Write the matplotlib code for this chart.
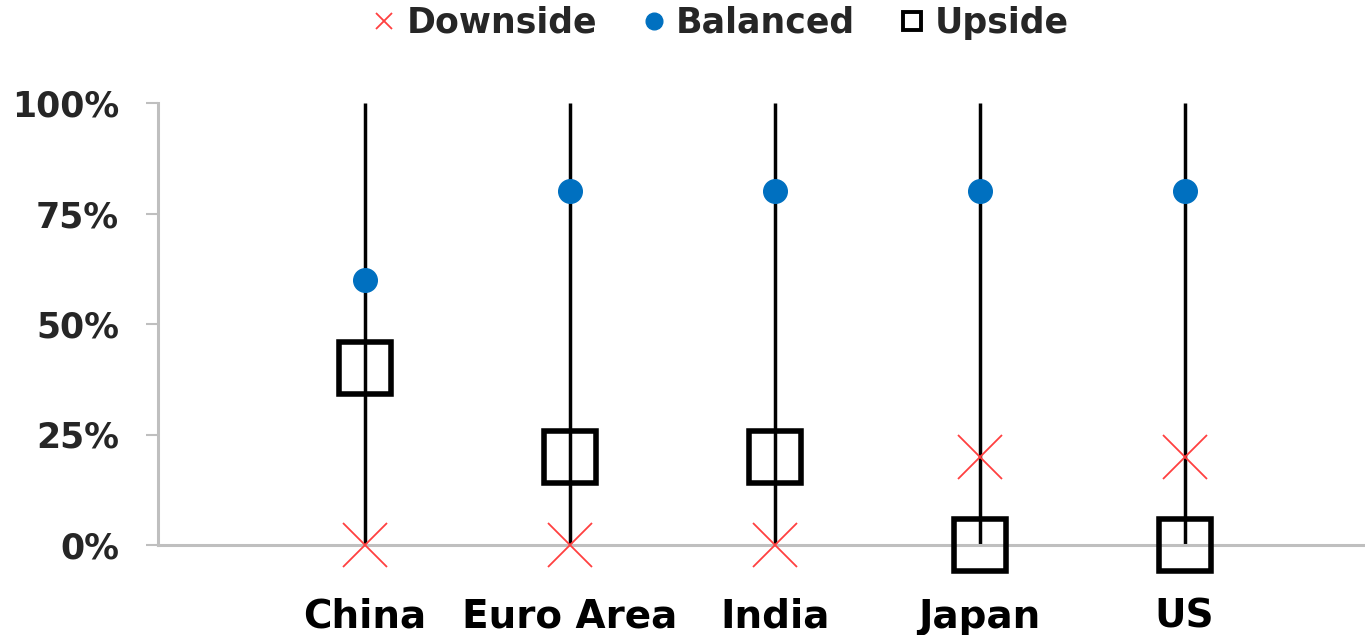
import numpy as np
import matplotlib.pyplot as plt
from matplotlib.lines import Line2D
from matplotlib.ticker import FuncFormatter

# Risk balance per economy (share of responses)
countries = ['China', 'Euro Area', 'India', 'Japan', 'US']
downside = [0, 0, 0, 20, 20]
balanced = [60, 80, 80, 80, 80]
upside = [40, 20, 20, 0, 0]
y_ticks = [0, 25, 50, 75, 100]

plt.rcParams['font.family'] = 'DejaVu Sans'
plt.rcParams['font.weight'] = 'bold'

fig = plt.figure(figsize=(13.65, 6.35), dpi=100)
ax = fig.add_axes([158 / 1365, 1 - 545 / 635, 1 - 158 / 1365, 442 / 635])

x = np.arange(len(countries))

# vertical high-low lines spanning the full range
ax.vlines(x, 0, 100, color='black', lw=2.5, zorder=2)

ax.plot(x, upside, ls='none', marker='s', ms=38, mfc='none', mec='black',
        mew=4, zorder=3, clip_on=False)
ax.plot(x, downside, ls='none', marker='x', ms=31, mec='#FF4040',
        mew=1.3, zorder=4, clip_on=False)
ax.plot(x, balanced, ls='none', marker='o', ms=17, mfc='#0070C0',
        mec='#0070C0', zorder=4, clip_on=False)

ax.set_xlim(-1.01, 4.88)
ax.set_ylim(0, 100)
ax.set_xticks(x)
ax.set_xticklabels(countries, fontsize=28, fontweight='bold', color='black')
ax.set_yticks(y_ticks)
ax.yaxis.set_major_formatter(FuncFormatter(lambda v, p: f'{v:.0f}%'))
ax.tick_params(axis='y', labelsize=25, length=9, width=1.5, color='#BFBFBF',
               pad=19, labelcolor='#262626')
ax.tick_params(axis='x', length=0, pad=38)

for s in ['top', 'right']:
    ax.spines[s].set_visible(False)
for s in ['left', 'bottom']:
    ax.spines[s].set_color('#BFBFBF')
    ax.spines[s].set_linewidth(2.2)

handles = [
    Line2D([], [], ls='none', marker='x', ms=12, mec='#FF4040', mew=1.3),
    Line2D([], [], ls='none', marker='o', ms=12, mfc='#0070C0', mec='#0070C0'),
    Line2D([], [], ls='none', marker='s', ms=13, mfc='none', mec='black', mew=2.8),
]
fig.legend(handles, ['Downside', 'Balanced', 'Upside'], loc='upper center',
           bbox_to_anchor=(722 / 1365, 1.04), ncol=3, frameon=False,
           prop={'size': 25, 'weight': 'bold'}, handlelength=0.5,
           handletextpad=0.38, columnspacing=1.4, labelcolor='#262626')

fig.savefig('out.png', dpi=100)
